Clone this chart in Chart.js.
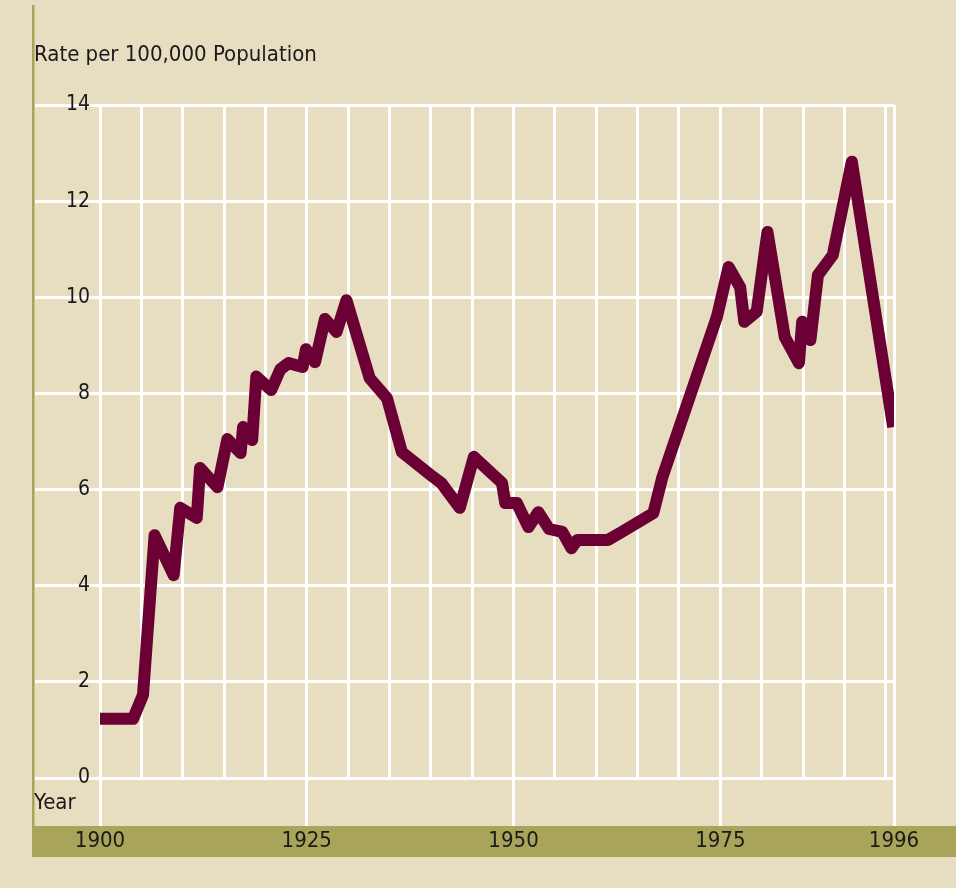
<!DOCTYPE html>
<html>
<head>
<meta charset="utf-8">
<script src="https://cdn.jsdelivr.net/npm/chart.js@4"></script>
<style>
    html, body { margin: 0; padding: 0; background: #e7ddc1; }
    canvas { display: block; }
</style>
</head>
<body>
<canvas id="chart" width="956" height="888"></canvas>
<script>
// Rate series
const years = [
    1900.0, 1904.0, 1905.2, 1906.6, 1908.9, 1909.7, 1911.7, 1912.1, 1914.2, 1915.4,
    1917.0, 1917.3, 1918.4, 1918.9, 1920.7, 1921.8, 1922.8, 1924.5, 1924.9, 1926.0,
    1927.2, 1928.6, 1929.8, 1932.6, 1934.7, 1936.5, 1940.3, 1941.3, 1943.5, 1945.2,
    1948.6, 1949.0, 1950.4, 1951.8, 1953.0, 1954.3, 1955.9, 1957.0, 1957.7, 1961.4,
    1962.9, 1966.9, 1968.0, 1974.6, 1976.0, 1977.4, 1977.9, 1979.4, 1980.7, 1982.8,
    1984.5, 1984.9, 1985.9, 1986.8, 1988.6, 1990.9, 1995.9
];
const rates = [
    1.23, 1.23, 1.73, 5.05, 4.22, 5.62, 5.41, 6.45, 6.05, 7.05,
    6.76, 7.30, 7.03, 8.35, 8.07, 8.50, 8.63, 8.55, 8.92, 8.65,
    9.55, 9.28, 9.94, 8.32, 7.90, 6.78, 6.26, 6.13, 5.62, 6.68,
    6.14, 5.72, 5.72, 5.22, 5.53, 5.18, 5.12, 4.78, 4.95, 4.95,
    5.10, 5.51, 6.26, 9.60, 10.63, 10.21, 9.49, 9.70, 11.36, 9.17,
    8.63, 9.49, 9.11, 10.46, 10.88, 12.82, 7.30
];
const gridYears = [1900, 1905, 1910, 1915, 1920, 1925, 1930, 1935, 1940, 1945,
    1950, 1955, 1960, 1965, 1970, 1975, 1980, 1985, 1990, 1995, 1996];
const labelYears = [1900, 1925, 1950, 1975, 1996];

const FONT = "'Liberation Sans Narrow', 'DejaVu Sans Condensed', 'Liberation Sans', sans-serif";
const OLIVE = '#a8a45a';

const decorations = {
    id: 'decorations',
    beforeDraw(chart) {
        const ctx = chart.ctx;
        const x = chart.scales.x;
        const bandTop = x.top + x.options.grid.tickLength;
        ctx.save();
        ctx.fillStyle = OLIVE;
        ctx.fillRect(32, bandTop, chart.width - 32, 31);
        ctx.fillRect(32, 5, 2.5, bandTop - 5);
        ctx.restore();
    },
    afterDraw(chart) {
        const ctx = chart.ctx;
        const x = chart.scales.x;
        ctx.save();
        ctx.fillStyle = '#1a1a1a';
        ctx.font = '22px ' + FONT;
        ctx.textBaseline = 'middle';
        ctx.textAlign = 'left';
        ctx.fillText('Year', 34, x.top + 25);
        ctx.restore();
    }
};

new Chart(document.getElementById('chart'), {
    type: 'line',
    data: {
        datasets: [{
            data: years.map((yr, i) => ({ x: yr, y: rates[i] })),
            borderColor: '#6a0033',
            borderWidth: 12,
            borderJoinStyle: 'round',
            pointRadius: 0,
            tension: 0
        }]
    },
    options: {
        responsive: false,
        animation: false,
        layout: { padding: { left: 34, right: 62, top: 0, bottom: 0 } },
        plugins: {
            legend: { display: false },
            tooltip: { enabled: false },
            title: {
                display: true,
                text: 'Rate per 100,000 Population',
                align: 'start',
                color: '#1a1a1a',
                font: { family: FONT, size: 22, weight: 'normal', lineHeight: 1.2 },
                padding: { top: 42, bottom: 36.6 }
            }
        },
        scales: {
            x: {
                type: 'linear',
                min: 1900,
                max: 1996,
                afterBuildTicks: scale => { scale.ticks = gridYears.map(v => ({ value: v })); },
                afterFit: scale => { scale.height = 110; },
                border: { display: false },
                grid: {
                    color: '#ffffff',
                    lineWidth: 3,
                    tickLength: 48,
                    tickColor: c => labelYears.includes(c.tick.value) ? '#ffffff' : 'rgba(0,0,0,0)'
                },
                ticks: {
                    autoSkip: false,
                    maxRotation: 0,
                    padding: 2,
                    color: '#1a1a1a',
                    font: { family: FONT, size: 22 }
                    ,
                    callback: v => labelYears.includes(v) ? String(v) : ''
                }
            },
            y: {
                min: 0,
                max: 14,
                afterFit: scale => { scale.width = 66; },
                border: { display: false },
                grid: {
                    color: '#ffffff',
                    lineWidth: 3,
                    tickLength: 65,
                    tickColor: '#ffffff'
                },
                ticks: {
                    stepSize: 2,
                    padding: -55,
                    color: '#1a1a1a',
                    font: { family: FONT, size: 21 }
                }
            }
        }
    },
    plugins: [decorations]
});
</script>
</body>
</html>
